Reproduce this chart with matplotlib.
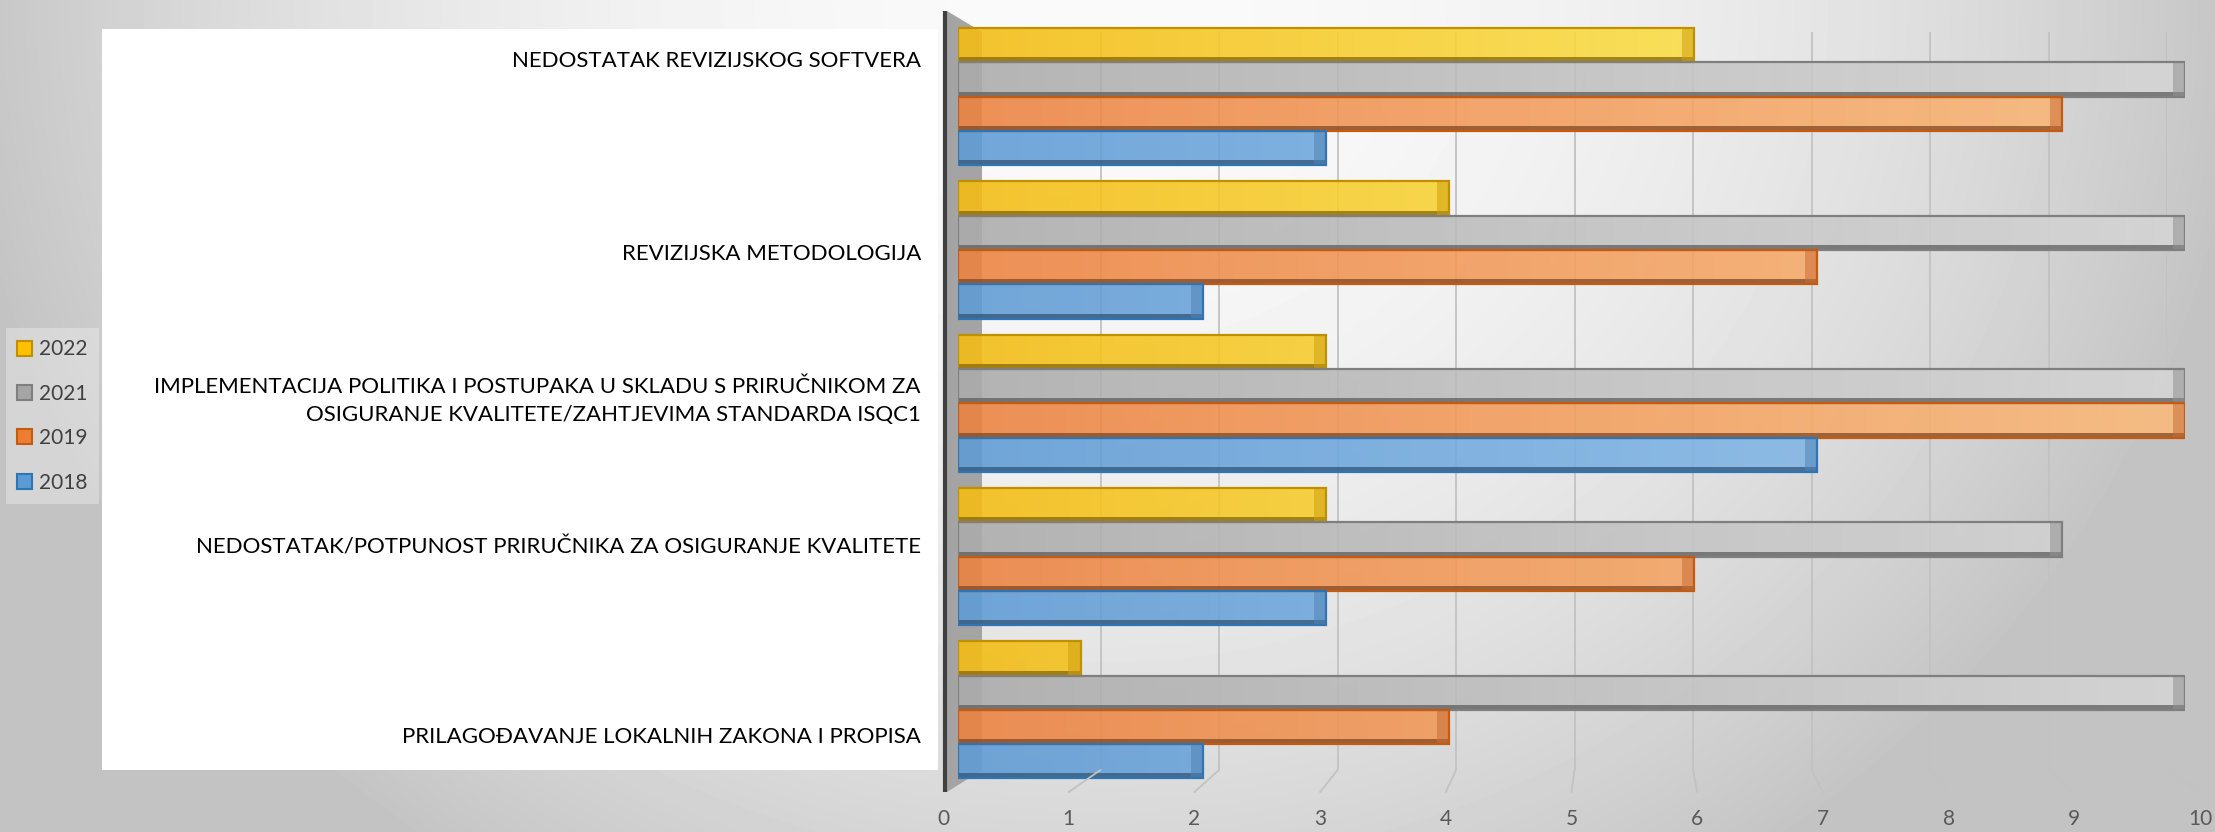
import numpy as np
import matplotlib
matplotlib.use("Agg")
import matplotlib.pyplot as plt
from matplotlib.patches import Rectangle, Polygon, Patch, ConnectionPatch
from matplotlib.colors import to_rgb

plt.rcParams['font.family'] = ['Lato', 'DejaVu Sans']

# ---------------- data ----------------
categories = [
    "NEDOSTATAK REVIZIJSKOG SOFTVERA",
    "REVIZIJSKA METODOLOGIJA",
    "IMPLEMENTACIJA POLITIKA I POSTUPAKA U SKLADU S PRIRUČNIKOM ZA\nOSIGURANJE KVALITETE/ZAHTJEVIMA STANDARDA ISQC1",
    "NEDOSTATAK/POTPUNOST PRIRUČNIKA ZA OSIGURANJE KVALITETE",
    "PRILAGOĐAVANJE LOKALNIH ZAKONA I PROPISA",
]
years = ["2022", "2021", "2019", "2018"]
v2022 = [6, 4, 3, 3, 1]
v2021 = [10, 10, 10, 9, 10]
v2019 = [9, 7, 10, 6, 4]
v2018 = [3, 2, 7, 3, 2]
x_ticks = list(range(0, 11))

# ---------------- styles ----------------
series_vals = [v2022, v2021, v2019, v2018]
grad_left = ["#F4BC12", "#ABABAB", "#EC8240", "#5F9BD5"]
grad_right = ["#FFF468", "#D6D6D6", "#FBBC7C", "#90C2EE"]
edge_cols = ["#BF9000", "#7F7F7F", "#C55A11", "#2E75B6"]
legend_face = ["#FFC000", "#A5A5A5", "#ED7D31", "#5B9BD5"]

W, H = 2215, 832
fig = plt.figure(figsize=(W / 100, H / 100), dpi=100)


def fx(px):
    return px / W


def fy(py):
    return 1 - py / H


# background canvas in pixel coordinates (origin top-left)
bg = fig.add_axes([0, 0, 1, 1], zorder=-10)
yy, xx = np.mgrid[0:H, 0:W]
r = np.hypot(xx - 1100, yy * 1.1)
val = np.clip(250 - 50 * (r / 1100) ** 2, 196, 250) / 255.0
bg.imshow(val, cmap="gray", vmin=0, vmax=1, extent=[0, W, H, 0],
          aspect="auto", interpolation="bilinear")
bg.set_xlim(0, W)
bg.set_ylim(H, 0)
bg.axis("off")

# white box behind category labels
bg.add_patch(Rectangle((102, 29), 836, 741, fc="white", ec="none"))
# side wall and axis line
bg.add_patch(Polygon([(947, 11), (982, 32), (982, 770), (947, 792)],
                     closed=True, fc="#A4A4A4", ec="none"))
bg.plot([945, 945], [11, 792], color="#404040", lw=3, solid_capstyle="butt")

# back wall gridlines
axb = fig.add_axes([fx(982), fy(770), fx(1185), 738 / H], zorder=-5)
axb.set_xlim(0, 10)
axb.set_ylim(0, 1)
axb.axis("off")
for v in x_ticks[1:]:
    axb.axvline(v, color="#C2C2C2", lw=1.3)

# floor / tick labels
axf = fig.add_axes([fx(943), fy(792), fx(1257), 22 / H], zorder=-4)
axf.set_xlim(0, 10)
axf.set_ylim(0, 1)
axf.patch.set_visible(False)
for s in axf.spines.values():
    s.set_visible(False)
axf.set_yticks([])
axf.set_xticks(x_ticks)
axf.set_xticklabels([str(t) for t in x_ticks])
axf.tick_params(axis="x", length=0, pad=12, labelsize=15, labelcolor="#595959")
for v in x_ticks[1:]:
    cp = ConnectionPatch(xyA=(v, 0), coordsA=axb.transData,
                         xyB=(v, 0), coordsB=axf.transData,
                         color="#C2C2C2", lw=1.3)
    fig.add_artist(cp)

# main bars
ax = fig.add_axes([fx(958), fy(786.5), fx(1227), 766.5 / H], zorder=0)
ax.patch.set_visible(False)
ax.axis("off")

group_px = 153.3
h = 34.3 / group_px
strip = 5.0 / group_px
offsets = [-1.5 * h, -0.5 * h, 0.5 * h, 1.5 * h]
ypos = np.arange(len(categories))

t = np.linspace(0, 1, 256)
for k, vals in enumerate(series_vals):
    c0 = np.array(to_rgb(grad_left[k]))
    c1 = np.array(to_rgb(grad_right[k]))
    grad = (c0[None, :] * (1 - t[:, None]) + c1[None, :] * t[:, None])[None, :, :]
    yc = ypos + offsets[k]
    bars = ax.barh(yc, vals, height=h, left=0, facecolor="none",
                   edgecolor=edge_cols[k], lw=1.6, zorder=4)
    dark = tuple(c0 * 0.55)
    ax.barh(yc + h / 2 - strip / 2, vals, height=strip, left=0,
            color=dark, alpha=0.75, zorder=3.5, lw=0)
    caps = [vv - 0.1 for vv in vals]
    ax.barh(yc, [0.1] * len(vals), left=caps, height=h,
            color=tuple(c0 * 0.85), alpha=0.55, zorder=3.6, lw=0)
    for bar, y in zip(bars, yc):
        im = ax.imshow(grad, extent=[0, 10, y + h / 2, y - h / 2],
                       aspect="auto", alpha=0.88, zorder=3,
                       interpolation="bilinear")
        im.set_clip_path(bar)

ax.set_xlim(0, 10)
ax.set_ylim(len(categories) - 0.5, -0.5)

# category labels
label_y_px = [61, 254, 401, 548, 737]
for lab, ypx in zip(categories, label_y_px):
    bg.text(921, ypx, lab, ha="right", va="center", fontsize=16,
            color="black", multialignment="right", linespacing=1.55)

# legend
handles = [Patch(facecolor=legend_face[k], edgecolor=edge_cols[k], lw=1.5)
           for k in range(len(years))]
leg = fig.legend(handles, years, loc="upper left",
                 bbox_to_anchor=(fx(6), fy(328)), fontsize=15,
                 handlelength=0.72, handleheight=0.72, handletextpad=0.3,
                 labelspacing=1.17, borderpad=0.55, borderaxespad=0,
                 frameon=True, fancybox=False, labelcolor="#404040")
leg.get_frame().set_facecolor("white")
leg.get_frame().set_alpha(0.3)
leg.get_frame().set_edgecolor("none")

fig.savefig("out.png", dpi=100)
